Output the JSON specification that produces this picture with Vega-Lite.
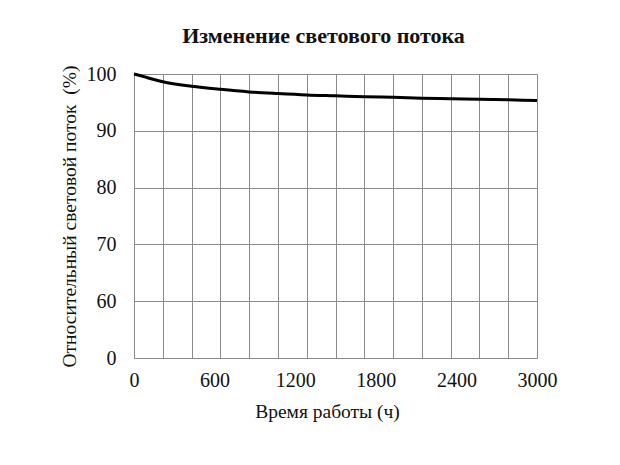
{
  "$schema": "https://vega.github.io/schema/vega-lite/v6.json",
  "autosize": {"type": "none"},
  "width": 403,
  "height": 284,
  "padding": {"left": 134, "top": 74, "right": 83, "bottom": 107},
  "background": "white",
  "title": {
    "text": "Изменение светового потока",
    "font": "Liberation Serif",
    "fontSize": 22,
    "fontWeight": "bold",
    "color": "#111",
    "anchor": "middle",
    "dx": -12,
    "offset": 16
  },
  "config": {
    "view": {"stroke": null},
    "axis": {
      "labelFont": "Liberation Serif",
      "titleFont": "Liberation Serif",
      "labelFontSize": 20,
      "titleFontSize": 19.5,
      "titleFontWeight": "normal",
      "labelColor": "#111",
      "titleColor": "#111",
      "gridColor": "#8a8a8a",
      "gridOpacity": 1,
      "gridWidth": 1,
      "domainColor": "#8a8a8a",
      "ticks": false
    }
  },
  "data": {
    "values": [
      {"h": 0, "v": 100},
      {"h": 50, "v": 99.7},
      {"h": 107, "v": 99.3},
      {"h": 214, "v": 98.65},
      {"h": 429, "v": 97.85},
      {"h": 643, "v": 97.3},
      {"h": 857, "v": 96.85},
      {"h": 1071, "v": 96.55},
      {"h": 1286, "v": 96.3},
      {"h": 1500, "v": 96.15},
      {"h": 1714, "v": 96.0},
      {"h": 1929, "v": 95.9},
      {"h": 2143, "v": 95.75},
      {"h": 2357, "v": 95.65},
      {"h": 2571, "v": 95.55},
      {"h": 2786, "v": 95.45},
      {"h": 3000, "v": 95.35}
    ]
  },
  "layer": [
    {
      "mark": {"type": "line", "opacity": 0},
      "encoding": {
        "x": {
          "field": "h", "type": "quantitative",
          "scale": {"domain": [0, 3000], "nice": false, "zero": false},
          "axis": {
            "orient": "bottom",
            "values": [0, 214.2857, 428.5714, 642.8571, 857.1429, 1071.4286, 1285.7143, 1500, 1714.2857, 1928.5714, 2142.8571, 2357.1429, 2571.4286, 2785.7143, 3000],
            "grid": true, "labels": false, "domain": false, "title": null
          }
        },
        "y": {
          "field": "v", "type": "quantitative",
          "scale": {"domain": [50, 100], "nice": false, "zero": false},
          "axis": {
            "values": [50, 60, 70, 80, 90, 100],
            "labelExpr": "datum.value == 50 ? '0' : datum.label",
            "grid": true,
            "labelPadding": 18,
            "labelFlush": false,
            "title": "Относительный световой поток\u00a0\u00a0(%)",
            "titlePadding": 7
          }
        }
      }
    },
    {
      "mark": {"type": "line", "color": "#000", "strokeWidth": 3, "interpolate": "monotone"},
      "encoding": {
        "x": {
          "field": "h", "type": "quantitative",
          "scale": {"domain": [0, 3000], "nice": false, "zero": false},
          "axis": {
            "orient": "bottom",
            "values": [0, 600, 1200, 1800, 2400, 3000],
            "format": "d",
            "grid": false,
            "labelFlush": false,
            "labelPadding": 12,
            "title": "Время работы (ч)",
            "titlePadding": 12,
            "titleX": 193
          }
        },
        "y": {"field": "v", "type": "quantitative"}
      }
    }
  ],
  "resolve": {"axis": {"x": "independent"}}
}
